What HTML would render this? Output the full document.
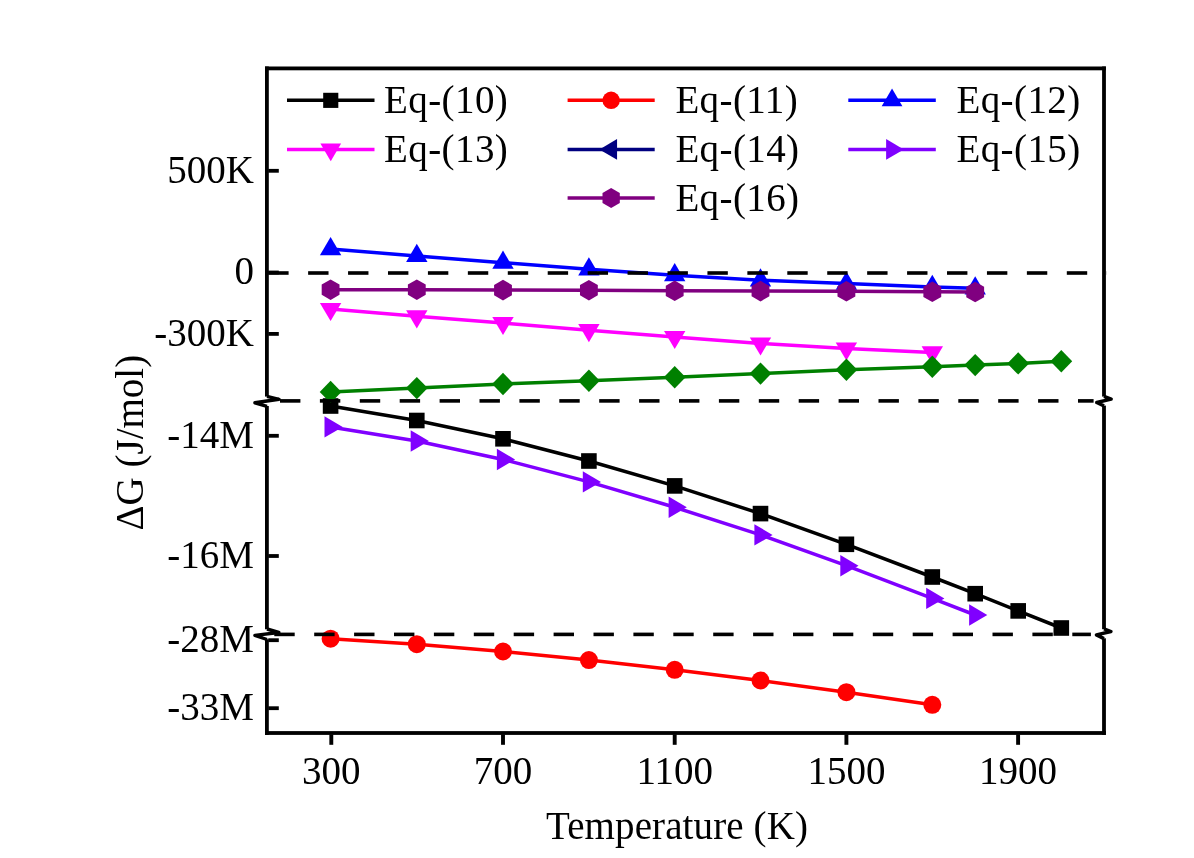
<!DOCTYPE html><html><head><meta charset="utf-8"><style>html,body{margin:0;padding:0;background:#fff;}svg{display:block;will-change:transform;}text{font-family:"Liberation Serif", serif;}</style></head><body>
<svg width="1194" height="858" viewBox="0 0 1194 858">
<rect width="1194" height="858" fill="#fff"/>
<polyline points="330.60,406.00 416.80,420.50 503.00,438.80 588.90,461.00 674.70,485.90 760.50,513.60 846.40,544.30 932.30,577.00 975.20,593.70 1018.20,610.90 1061.30,628.00" fill="none" stroke="#000000" stroke-width="3.5" stroke-linejoin="round"/>
<rect x="322.80" y="398.20" width="15.6" height="15.6" fill="#000000"/>
<rect x="409.00" y="412.70" width="15.6" height="15.6" fill="#000000"/>
<rect x="495.20" y="431.00" width="15.6" height="15.6" fill="#000000"/>
<rect x="581.10" y="453.20" width="15.6" height="15.6" fill="#000000"/>
<rect x="666.90" y="478.10" width="15.6" height="15.6" fill="#000000"/>
<rect x="752.70" y="505.80" width="15.6" height="15.6" fill="#000000"/>
<rect x="838.60" y="536.50" width="15.6" height="15.6" fill="#000000"/>
<rect x="924.50" y="569.20" width="15.6" height="15.6" fill="#000000"/>
<rect x="967.40" y="585.90" width="15.6" height="15.6" fill="#000000"/>
<rect x="1010.40" y="603.10" width="15.6" height="15.6" fill="#000000"/>
<rect x="1053.50" y="620.20" width="15.6" height="15.6" fill="#000000"/>
<polyline points="330.60,638.70 416.80,644.20 503.00,651.50 588.90,660.10 674.70,669.80 760.50,680.50 846.40,692.20 932.30,704.80" fill="none" stroke="#FF0000" stroke-width="3.5" stroke-linejoin="round"/>
<circle cx="330.60" cy="638.70" r="9.0" fill="#FF0000"/>
<circle cx="416.80" cy="644.20" r="9.0" fill="#FF0000"/>
<circle cx="503.00" cy="651.50" r="9.0" fill="#FF0000"/>
<circle cx="588.90" cy="660.10" r="9.0" fill="#FF0000"/>
<circle cx="674.70" cy="669.80" r="9.0" fill="#FF0000"/>
<circle cx="760.50" cy="680.50" r="9.0" fill="#FF0000"/>
<circle cx="846.40" cy="692.20" r="9.0" fill="#FF0000"/>
<circle cx="932.30" cy="704.80" r="9.0" fill="#FF0000"/>
<polyline points="330.60,249.10 416.80,255.90 503.00,262.70 588.90,269.30 674.70,275.20 760.50,280.30 846.40,283.60 932.30,286.90 975.20,288.30" fill="none" stroke="#0000FF" stroke-width="3.5" stroke-linejoin="round"/>
<polygon points="330.60,237.00 341.30,255.20 319.90,255.20" fill="#0000FF"/>
<polygon points="416.80,243.80 427.50,262.00 406.10,262.00" fill="#0000FF"/>
<polygon points="503.00,250.60 513.70,268.80 492.30,268.80" fill="#0000FF"/>
<polygon points="588.90,257.20 599.60,275.40 578.20,275.40" fill="#0000FF"/>
<polygon points="674.70,263.10 685.40,281.30 664.00,281.30" fill="#0000FF"/>
<polygon points="760.50,268.20 771.20,286.40 749.80,286.40" fill="#0000FF"/>
<polygon points="846.40,271.50 857.10,289.70 835.70,289.70" fill="#0000FF"/>
<polygon points="932.30,274.80 943.00,293.00 921.60,293.00" fill="#0000FF"/>
<polygon points="975.20,276.20 985.90,294.40 964.50,294.40" fill="#0000FF"/>
<polyline points="330.60,309.00 416.80,316.30 503.00,323.00 588.90,330.20 674.70,337.00 760.50,343.50 846.40,348.50 932.30,352.40" fill="none" stroke="#FF00FF" stroke-width="3.5" stroke-linejoin="round"/>
<polygon points="330.60,321.10 341.30,302.90 319.90,302.90" fill="#FF00FF"/>
<polygon points="416.80,328.40 427.50,310.20 406.10,310.20" fill="#FF00FF"/>
<polygon points="503.00,335.10 513.70,316.90 492.30,316.90" fill="#FF00FF"/>
<polygon points="588.90,342.30 599.60,324.10 578.20,324.10" fill="#FF00FF"/>
<polygon points="674.70,349.10 685.40,330.90 664.00,330.90" fill="#FF00FF"/>
<polygon points="760.50,355.60 771.20,337.40 749.80,337.40" fill="#FF00FF"/>
<polygon points="846.40,360.60 857.10,342.40 835.70,342.40" fill="#FF00FF"/>
<polygon points="932.30,364.50 943.00,346.30 921.60,346.30" fill="#FF00FF"/>
<polyline points="330.60,426.90 416.80,441.00 503.00,459.50 588.90,481.90 674.70,507.30 760.50,534.90 846.40,565.70 932.30,598.40 975.20,615.00" fill="none" stroke="#8000FF" stroke-width="3.5" stroke-linejoin="round"/>
<polygon points="342.70,426.90 324.50,416.20 324.50,437.60" fill="#8000FF"/>
<polygon points="428.90,441.00 410.70,430.30 410.70,451.70" fill="#8000FF"/>
<polygon points="515.10,459.50 496.90,448.80 496.90,470.20" fill="#8000FF"/>
<polygon points="601.00,481.90 582.80,471.20 582.80,492.60" fill="#8000FF"/>
<polygon points="686.80,507.30 668.60,496.60 668.60,518.00" fill="#8000FF"/>
<polygon points="772.60,534.90 754.40,524.20 754.40,545.60" fill="#8000FF"/>
<polygon points="858.50,565.70 840.30,555.00 840.30,576.40" fill="#8000FF"/>
<polygon points="944.40,598.40 926.20,587.70 926.20,609.10" fill="#8000FF"/>
<polygon points="987.30,615.00 969.10,604.30 969.10,625.70" fill="#8000FF"/>
<polyline points="330.60,289.70 416.80,289.70 503.00,290.10 588.90,290.20 674.70,290.80 760.50,291.10 846.40,291.30 932.30,291.80 975.20,292.00" fill="none" stroke="#800080" stroke-width="3.5" stroke-linejoin="round"/>
<polygon points="330.60,279.40 339.52,284.55 339.52,294.85 330.60,300.00 321.68,294.85 321.68,284.55" fill="#800080"/>
<polygon points="416.80,279.40 425.72,284.55 425.72,294.85 416.80,300.00 407.88,294.85 407.88,284.55" fill="#800080"/>
<polygon points="503.00,279.80 511.92,284.95 511.92,295.25 503.00,300.40 494.08,295.25 494.08,284.95" fill="#800080"/>
<polygon points="588.90,279.90 597.82,285.05 597.82,295.35 588.90,300.50 579.98,295.35 579.98,285.05" fill="#800080"/>
<polygon points="674.70,280.50 683.62,285.65 683.62,295.95 674.70,301.10 665.78,295.95 665.78,285.65" fill="#800080"/>
<polygon points="760.50,280.80 769.42,285.95 769.42,296.25 760.50,301.40 751.58,296.25 751.58,285.95" fill="#800080"/>
<polygon points="846.40,281.00 855.32,286.15 855.32,296.45 846.40,301.60 837.48,296.45 837.48,286.15" fill="#800080"/>
<polygon points="932.30,281.50 941.22,286.65 941.22,296.95 932.30,302.10 923.38,296.95 923.38,286.65" fill="#800080"/>
<polygon points="975.20,281.70 984.12,286.85 984.12,297.15 975.20,302.30 966.28,297.15 966.28,286.85" fill="#800080"/>
<polyline points="330.60,391.90 416.80,388.10 503.00,384.00 588.90,380.80 674.70,377.30 760.50,373.60 846.40,369.80 932.30,366.70 975.20,365.10 1018.20,363.40 1061.30,361.30" fill="none" stroke="#008000" stroke-width="3.5" stroke-linejoin="round"/>
<polygon points="330.60,380.70 341.50,391.90 330.60,403.10 319.70,391.90" fill="#008000"/>
<polygon points="416.80,376.90 427.70,388.10 416.80,399.30 405.90,388.10" fill="#008000"/>
<polygon points="503.00,372.80 513.90,384.00 503.00,395.20 492.10,384.00" fill="#008000"/>
<polygon points="588.90,369.60 599.80,380.80 588.90,392.00 578.00,380.80" fill="#008000"/>
<polygon points="674.70,366.10 685.60,377.30 674.70,388.50 663.80,377.30" fill="#008000"/>
<polygon points="760.50,362.40 771.40,373.60 760.50,384.80 749.60,373.60" fill="#008000"/>
<polygon points="846.40,358.60 857.30,369.80 846.40,381.00 835.50,369.80" fill="#008000"/>
<polygon points="932.30,355.50 943.20,366.70 932.30,377.90 921.40,366.70" fill="#008000"/>
<polygon points="975.20,353.90 986.10,365.10 975.20,376.30 964.30,365.10" fill="#008000"/>
<polygon points="1018.20,352.20 1029.10,363.40 1018.20,374.60 1007.30,363.40" fill="#008000"/>
<polygon points="1061.30,350.10 1072.20,361.30 1061.30,372.50 1050.40,361.30" fill="#008000"/>
<rect x="268.20" y="271.20" width="20.40" height="3.6" fill="#000"/><rect x="308.13" y="271.20" width="20.40" height="3.6" fill="#000"/><rect x="348.06" y="271.20" width="20.40" height="3.6" fill="#000"/><rect x="387.99" y="271.20" width="20.40" height="3.6" fill="#000"/><rect x="427.92" y="271.20" width="20.40" height="3.6" fill="#000"/><rect x="467.85" y="271.20" width="20.40" height="3.6" fill="#000"/><rect x="507.78" y="271.20" width="20.40" height="3.6" fill="#000"/><rect x="547.71" y="271.20" width="20.40" height="3.6" fill="#000"/><rect x="587.64" y="271.20" width="20.40" height="3.6" fill="#000"/><rect x="627.57" y="271.20" width="20.40" height="3.6" fill="#000"/><rect x="667.50" y="271.20" width="20.40" height="3.6" fill="#000"/><rect x="707.43" y="271.20" width="20.40" height="3.6" fill="#000"/><rect x="747.36" y="271.20" width="20.40" height="3.6" fill="#000"/><rect x="787.29" y="271.20" width="20.40" height="3.6" fill="#000"/><rect x="827.22" y="271.20" width="20.40" height="3.6" fill="#000"/><rect x="867.15" y="271.20" width="20.40" height="3.6" fill="#000"/><rect x="907.08" y="271.20" width="20.40" height="3.6" fill="#000"/><rect x="947.01" y="271.20" width="20.40" height="3.6" fill="#000"/><rect x="986.94" y="271.20" width="20.40" height="3.6" fill="#000"/><rect x="1026.87" y="271.20" width="20.40" height="3.6" fill="#000"/><rect x="1066.80" y="271.20" width="20.40" height="3.6" fill="#000"/><rect x="1106.73" y="271.20" width="0.17" height="3.6" fill="#000"/>
<rect x="280.00" y="399.10" width="20.40" height="3.6" fill="#000"/><rect x="319.90" y="399.10" width="20.40" height="3.6" fill="#000"/><rect x="359.80" y="399.10" width="20.40" height="3.6" fill="#000"/><rect x="399.70" y="399.10" width="20.40" height="3.6" fill="#000"/><rect x="439.60" y="399.10" width="20.40" height="3.6" fill="#000"/><rect x="479.50" y="399.10" width="20.40" height="3.6" fill="#000"/><rect x="519.40" y="399.10" width="20.40" height="3.6" fill="#000"/><rect x="559.30" y="399.10" width="20.40" height="3.6" fill="#000"/><rect x="599.20" y="399.10" width="20.40" height="3.6" fill="#000"/><rect x="639.10" y="399.10" width="20.40" height="3.6" fill="#000"/><rect x="679.00" y="399.10" width="20.40" height="3.6" fill="#000"/><rect x="718.90" y="399.10" width="20.40" height="3.6" fill="#000"/><rect x="758.80" y="399.10" width="20.40" height="3.6" fill="#000"/><rect x="798.70" y="399.10" width="20.40" height="3.6" fill="#000"/><rect x="838.60" y="399.10" width="20.40" height="3.6" fill="#000"/><rect x="878.50" y="399.10" width="20.40" height="3.6" fill="#000"/><rect x="918.40" y="399.10" width="20.40" height="3.6" fill="#000"/><rect x="958.30" y="399.10" width="20.40" height="3.6" fill="#000"/><rect x="998.20" y="399.10" width="20.40" height="3.6" fill="#000"/><rect x="1038.10" y="399.10" width="20.40" height="3.6" fill="#000"/><rect x="1078.00" y="399.10" width="15.60" height="3.6" fill="#000"/>
<rect x="274.30" y="632.60" width="20.40" height="3.6" fill="#000"/><rect x="314.20" y="632.60" width="20.40" height="3.6" fill="#000"/><rect x="354.10" y="632.60" width="20.40" height="3.6" fill="#000"/><rect x="394.00" y="632.60" width="20.40" height="3.6" fill="#000"/><rect x="433.90" y="632.60" width="20.40" height="3.6" fill="#000"/><rect x="473.80" y="632.60" width="20.40" height="3.6" fill="#000"/><rect x="513.70" y="632.60" width="20.40" height="3.6" fill="#000"/><rect x="553.60" y="632.60" width="20.40" height="3.6" fill="#000"/><rect x="593.50" y="632.60" width="20.40" height="3.6" fill="#000"/><rect x="633.40" y="632.60" width="20.40" height="3.6" fill="#000"/><rect x="673.30" y="632.60" width="20.40" height="3.6" fill="#000"/><rect x="713.20" y="632.60" width="20.40" height="3.6" fill="#000"/><rect x="753.10" y="632.60" width="20.40" height="3.6" fill="#000"/><rect x="793.00" y="632.60" width="20.40" height="3.6" fill="#000"/><rect x="832.90" y="632.60" width="20.40" height="3.6" fill="#000"/><rect x="872.80" y="632.60" width="20.40" height="3.6" fill="#000"/><rect x="912.70" y="632.60" width="20.40" height="3.6" fill="#000"/><rect x="952.60" y="632.60" width="20.40" height="3.6" fill="#000"/><rect x="992.50" y="632.60" width="20.40" height="3.6" fill="#000"/><rect x="1032.40" y="632.60" width="20.40" height="3.6" fill="#000"/><rect x="1072.30" y="632.60" width="18.60" height="3.6" fill="#000"/>
<rect x="265.00" y="66.50" width="840.90" height="3.80" fill="#000"/>
<rect x="265.00" y="731.10" width="840.90" height="3.80" fill="#000"/>
<rect x="265.00" y="66.50" width="3.80" height="330.10" fill="#000"/>
<rect x="265.00" y="406.00" width="3.80" height="223.30" fill="#000"/>
<rect x="265.00" y="639.20" width="3.80" height="95.70" fill="#000"/>
<rect x="1102.10" y="66.50" width="3.80" height="330.10" fill="#000"/>
<rect x="1102.10" y="405.60" width="3.80" height="223.60" fill="#000"/>
<rect x="1102.10" y="638.30" width="3.80" height="96.60" fill="#000"/>
<polyline points="267,396.3 279.0,399.3 254.9,402.8 267,406.3" fill="none" stroke="#000" stroke-width="3.4" stroke-linejoin="round"/>
<polyline points="267,629.0 278.8,632.5 254.9,635.4 267,639.5" fill="none" stroke="#000" stroke-width="3.4" stroke-linejoin="round"/>
<polyline points="1104,396.3 1111.2,399.1 1096.7,402.5 1104,405.9" fill="none" stroke="#000" stroke-width="3.4" stroke-linejoin="round"/>
<polyline points="1104,628.9 1111.0,631.5 1096.4,634.9 1104,638.6" fill="none" stroke="#000" stroke-width="3.4" stroke-linejoin="round"/>
<rect x="268.30" y="168.90" width="10.50" height="3.80" fill="#000"/>
<rect x="268.30" y="270.60" width="10.50" height="3.80" fill="#000"/>
<rect x="268.30" y="332.00" width="10.50" height="3.80" fill="#000"/>
<rect x="268.30" y="433.90" width="10.50" height="3.80" fill="#000"/>
<rect x="268.30" y="554.10" width="10.50" height="3.80" fill="#000"/>
<rect x="268.30" y="638.30" width="10.50" height="3.80" fill="#000"/>
<rect x="268.30" y="706.30" width="10.50" height="3.80" fill="#000"/>
<rect x="329.35" y="734.40" width="3.90" height="10.40" fill="#000"/>
<rect x="501.05" y="734.40" width="3.90" height="10.40" fill="#000"/>
<rect x="672.75" y="734.40" width="3.90" height="10.40" fill="#000"/>
<rect x="844.45" y="734.40" width="3.90" height="10.40" fill="#000"/>
<rect x="1016.15" y="734.40" width="3.90" height="10.40" fill="#000"/>
<text x="254.0" y="182.5" font-size="39" text-anchor="end">500K</text>
<text x="254.0" y="284.2" font-size="39" text-anchor="end">0</text>
<text x="254.0" y="345.6" font-size="39" text-anchor="end">-300K</text>
<text x="254.0" y="447.5" font-size="39" text-anchor="end">-14M</text>
<text x="254.0" y="567.7" font-size="39" text-anchor="end">-16M</text>
<text x="254.0" y="651.9" font-size="39" text-anchor="end">-28M</text>
<text x="254.0" y="719.9" font-size="39" text-anchor="end">-33M</text>
<text x="331.3" y="784.2" font-size="39" text-anchor="middle">300</text>
<text x="503.0" y="784.2" font-size="39" text-anchor="middle">700</text>
<text x="674.7" y="784.2" font-size="39" text-anchor="middle">1100</text>
<text x="846.4" y="784.2" font-size="39" text-anchor="middle">1500</text>
<text x="1018.1" y="784.2" font-size="39" text-anchor="middle">1900</text>
<text x="677" y="838.9" font-size="39" text-anchor="middle" letter-spacing="0.12">Temperature (K)</text>
<text transform="translate(142.7,442.7) rotate(-90)" x="0" y="0" font-size="39" text-anchor="middle">&#916;G (J/mol)</text>
<line x1="287.0" y1="100.35" x2="374.5" y2="100.35" stroke="#000000" stroke-width="3.5"/>
<g transform="translate(330.75,100.35) scale(0.97) translate(-330.75,-100.35)"><rect x="322.95" y="92.55" width="15.6" height="15.6" fill="#000000"/></g>
<text x="384.09999999999997" y="113.2" font-size="39" letter-spacing="0.4">Eq-(10)</text>
<line x1="567.6" y1="100.35" x2="654.7" y2="100.35" stroke="#FF0000" stroke-width="3.5"/>
<g transform="translate(611.15,100.35) scale(0.97) translate(-611.15,-100.35)"><circle cx="611.15" cy="100.35" r="9.0" fill="#FF0000"/></g>
<text x="675.4" y="113.2" font-size="39" letter-spacing="0.4">Eq-(11)</text>
<line x1="848.3" y1="100.35" x2="935.8" y2="100.35" stroke="#0000FF" stroke-width="3.5"/>
<g transform="translate(892.05,100.35) scale(0.97) translate(-892.05,-100.35)"><polygon points="892.05,88.25 902.75,106.45 881.35,106.45" fill="#0000FF"/></g>
<text x="956.5" y="113.2" font-size="39" letter-spacing="0.4">Eq-(12)</text>
<line x1="287.0" y1="149.4" x2="374.5" y2="149.4" stroke="#FF00FF" stroke-width="3.5"/>
<g transform="translate(330.75,149.40) scale(0.97) translate(-330.75,-149.40)"><polygon points="330.75,161.50 341.45,143.30 320.05,143.30" fill="#FF00FF"/></g>
<text x="384.09999999999997" y="162.3" font-size="39" letter-spacing="0.4">Eq-(13)</text>
<line x1="567.6" y1="149.4" x2="654.7" y2="149.4" stroke="#000080" stroke-width="3.5"/>
<g transform="translate(611.15,149.40) scale(0.97) translate(-611.15,-149.40)"><polygon points="599.05,149.40 617.25,138.70 617.25,160.10" fill="#000080"/></g>
<text x="675.4" y="162.3" font-size="39" letter-spacing="0.4">Eq-(14)</text>
<line x1="848.3" y1="149.4" x2="935.8" y2="149.4" stroke="#8000FF" stroke-width="3.5"/>
<g transform="translate(892.05,149.40) scale(0.97) translate(-892.05,-149.40)"><polygon points="904.15,149.40 885.95,138.70 885.95,160.10" fill="#8000FF"/></g>
<text x="956.5" y="162.3" font-size="39" letter-spacing="0.4">Eq-(15)</text>
<line x1="567.6" y1="197.9" x2="654.7" y2="197.9" stroke="#800080" stroke-width="3.5"/>
<g transform="translate(611.15,197.90) scale(0.97) translate(-611.15,-197.90)"><polygon points="611.15,187.60 620.07,192.75 620.07,203.05 611.15,208.20 602.23,203.05 602.23,192.75" fill="#800080"/></g>
<text x="675.4" y="210.8" font-size="39" letter-spacing="0.4">Eq-(16)</text>
</svg></body></html>
